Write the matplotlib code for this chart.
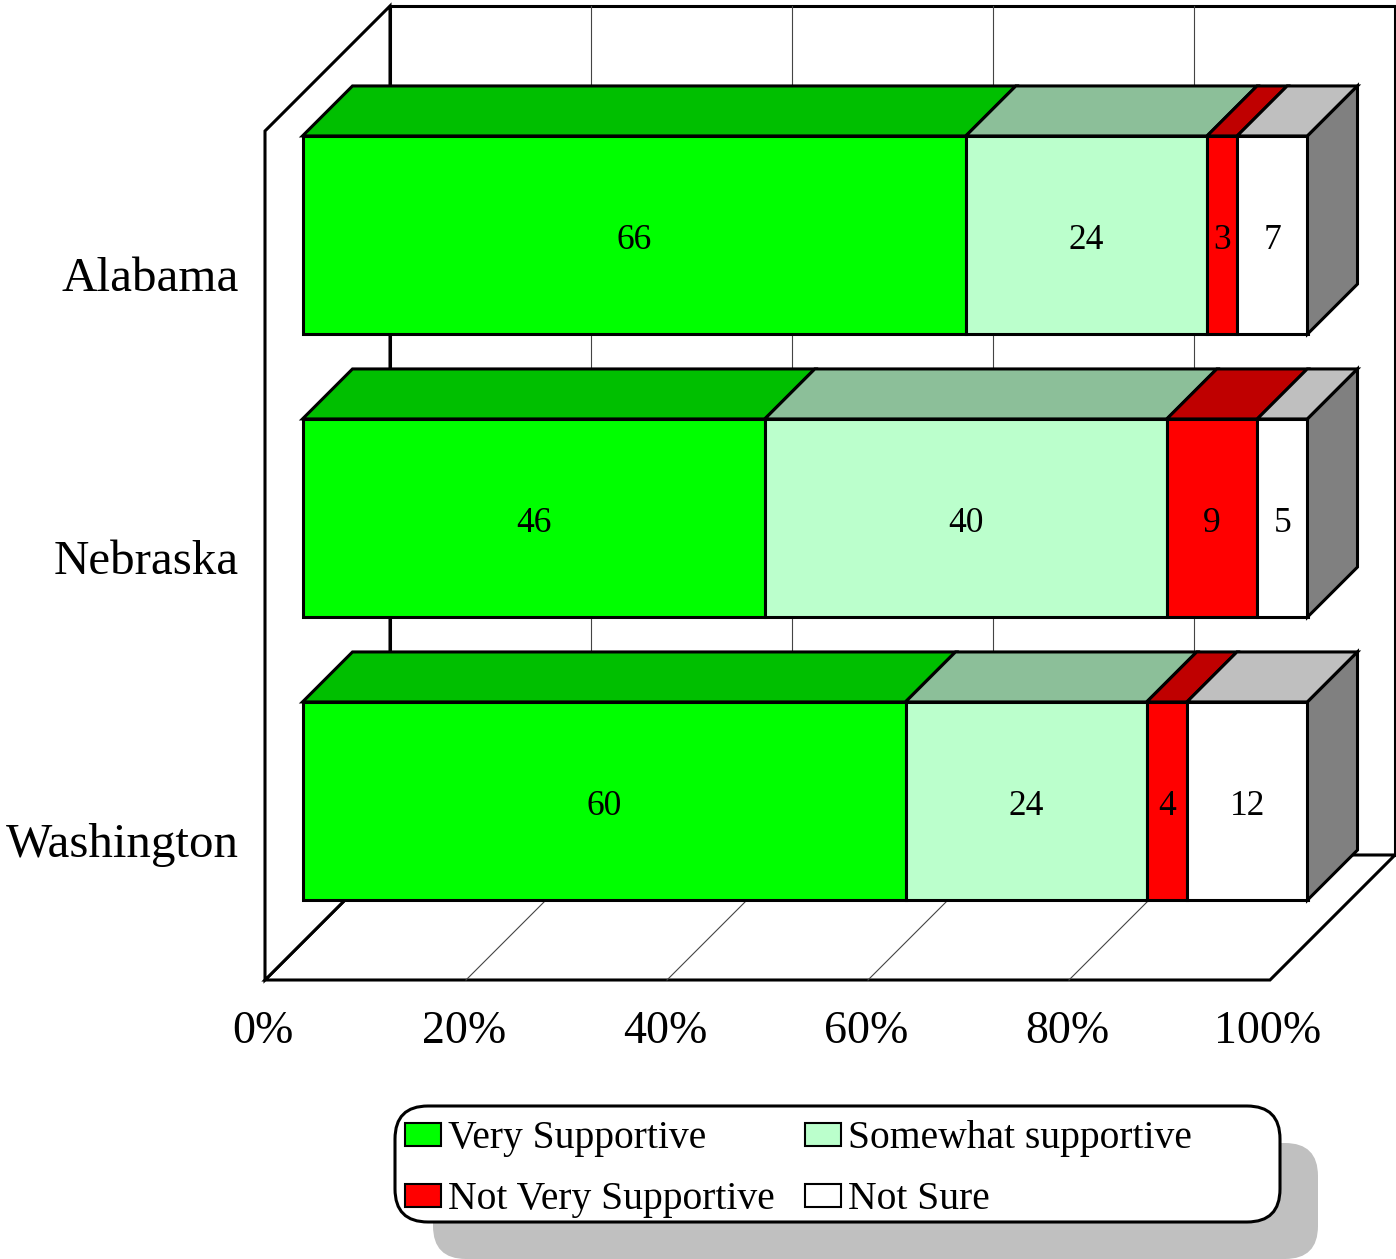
import matplotlib
matplotlib.use('Agg')
import matplotlib.pyplot as plt
from matplotlib.patches import Polygon, Rectangle, FancyBboxPatch
from matplotlib.colors import to_rgb

states = ['Alabama', 'Nebraska', 'Washington']
series = ['Very Supportive', 'Somewhat supportive', 'Not Very Supportive', 'Not Sure']
very_supportive = [66, 46, 60]
somewhat_supportive = [24, 40, 24]
not_very_supportive = [3, 9, 4]
not_sure = [7, 5, 12]
colors = ['#00FF00', '#BBFFCC', '#FF0000', '#FFFFFF']
ticks = [0, 20, 40, 60, 80, 100]

plt.rcParams['font.family'] = ['Liberation Serif', 'DejaVu Serif']

W, H = 1396, 1259
fig = plt.figure(figsize=(W / 100, H / 100), dpi=100)
ax = fig.add_axes([0, 0, 1, 1])
# x in percent, y in rows (front plane); 1% = 10.05 px, 1 row = 283 px
ax.set_xlim(-265 / 10.05, (W - 265) / 10.05)
ax.set_ylim(838.5 / 283 - H / 283, 838.5 / 283)
ax.axis('off')

DX, DY = 125 / 10.05, 125 / 283   # full depth of the box
D0, D1 = 0.3, 0.7                 # bar front / back depth
HALF = 0.35                       # half bar height
LW = 2.2


def p(x, y, d):
    return (x + d * DX, y + d * DY)


def face(pts, fc, lw=LW, z=1):
    ax.add_patch(Polygon([p(*q) for q in pts], closed=True, fc=fc, ec='black',
                         lw=lw, joinstyle='miter', zorder=z))


def shade(c, k):
    return tuple(v * k for v in to_rgb(c))


# walls and floor
face([(0, -0.5, 1), (100, -0.5, 1), (100, 2.5, 1), (0, 2.5, 1)], 'white')
face([(0, -0.5, 0), (100, -0.5, 0), (100, -0.5, 1), (0, -0.5, 1)], 'white')
for t in ticks[1:-1]:
    a, b = p(t, -0.5, 1), p(t, 2.5, 1)
    ax.plot([a[0], b[0]], [a[1], b[1]], color='#444444', lw=0.8, zorder=2)
    a, b = p(t, -0.5, 0), p(t, -0.5, 1)
    ax.plot([a[0], b[0]], [a[1], b[1]], color='#444444', lw=0.8, zorder=2)
face([(0, -0.5, 0), (0, 2.5, 0), (0, 2.5, 1), (0, -0.5, 1)], 'white')

# stacked bars
values = [very_supportive, somewhat_supportive, not_very_supportive, not_sure]
for i, state in enumerate(states):
    y = len(states) - 1 - i
    left = 0
    for vals, c in zip(values, colors):
        v = vals[i]
        x0, x1 = left, left + v
        face([(x0, y - HALF, D0), (x1, y - HALF, D0), (x1, y + HALF, D0), (x0, y + HALF, D0)], c, z=3)
        face([(x0, y + HALF, D0), (x1, y + HALF, D0), (x1, y + HALF, D1), (x0, y + HALF, D1)],
             shade(c, 0.75), z=3)
        tx, ty = p((x0 + x1) / 2, y - 0.048, D0)
        ax.text(tx, ty, str(v), ha='center', va='baseline', fontsize=25.5, zorder=5)
        left = x1
    face([(left, y - HALF, D0), (left, y - HALF, D1), (left, y + HALF, D1), (left, y + HALF, D0)],
         shade(colors[-1], 0.5), z=3)
    ax.text(-2.6, y - 0.067, state, ha='right', va='baseline', fontsize=35.3)

for t in ticks:
    ax.text(t - 0.2, -0.5 - 0.2226, f'{t}%', ha='center', va='baseline', fontsize=33)

# legend, in pixel coordinates
lax = fig.add_axes([0, 0, 1, 1])
lax.set_xlim(0, W)
lax.set_ylim(H, 0)
lax.axis('off')
lax.add_patch(FancyBboxPatch((433, 1143), 885, 116, boxstyle='round,pad=0,rounding_size=33',
                             fc='#C0C0C0', ec='none'))
lax.add_patch(FancyBboxPatch((395, 1106), 885, 116, boxstyle='round,pad=0,rounding_size=33',
                             fc='white', ec='black', lw=LW))
cols = [405, 805]
rows = [1148, 1209]
for k, (name, c) in enumerate(zip(series, colors)):
    r, cc = divmod(k, 2)
    lax.add_patch(Rectangle((cols[cc], rows[r] - 25), 36, 23, fc=c, ec='black', lw=1.5))
    lax.text(cols[cc] + 43, rows[r], name, va='baseline', fontsize=28.5)

fig.savefig('out.png', dpi=100)
